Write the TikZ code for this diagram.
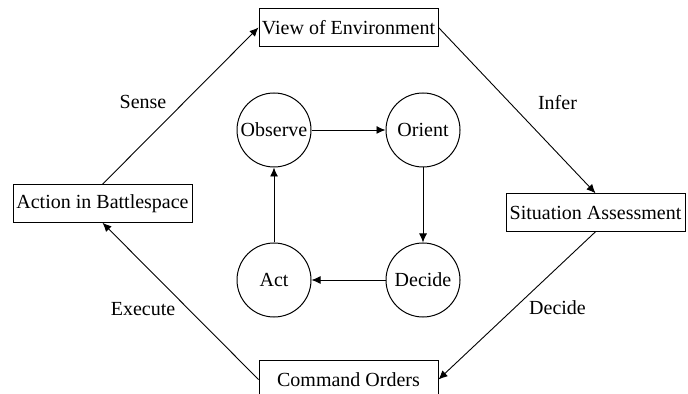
\documentclass[tikz,border=0pt]{standalone}
\usepackage{fontspec}
\setmainfont{LiberationSerif}[Extension=.ttf, UprightFont=*-Regular, BoldFont=*-Bold]
\usepackage{tikz}
\usetikzlibrary{arrows.meta}
\usetikzlibrary{shapes,calc}

\begin{document}
\begin{tikzpicture}[font=\rmfamily\fontsize{10}{12}\selectfont]
    \tikzstyle{arrow} = [
      ->,
      >={Latex[length=4.5pt,width=4pt]},
      line width=0.45pt,
      draw=black,
    ]
    \tikzstyle{stage} = [
      draw=black,
      line width=0.5pt,
      anchor=center,
      align=center,
      minimum width=89.5pt,
      minimum height=18.75pt,
      inner sep=0pt,
    ]
    \tikzstyle{phase} = [
      draw=black,
      line width=0.5pt,
      circle,
      anchor=center,
      minimum size=37pt,
      inner sep=0pt,
    ]
    \tikzstyle{verb} = [
      midway,
      anchor=center,
    ]

    \newcommand{\loopdx}[0]{37.25pt}
    \newcommand{\loopdy}[0]{37.5pt}

    \useasboundingbox (0,0) rectangle (344pt,-197pt);
    \clip (0,0) rectangle (344pt,-197pt);

    \coordinate (hubAnchor) at (174.25pt,-102.5pt);

    % outer boxes
    {
      \node[stage] (viewEnv)   at ([yshift=88.75pt] hubAnchor) {View of Environment};
      \node[stage] (sitAssess) at ([xshift=123.5pt, yshift=-3.75pt] hubAnchor) {Situation Assessment};
      \node[stage] (cmdOrders) at ([yshift=-87.25pt] hubAnchor) {Command Orders};
      \node[stage] (actBattle) at ([xshift=-123pt, yshift=0.75pt] hubAnchor) {Action in Battlespace};
    }

    % inner loop
    {
      \node[phase] (observe) at ([xshift=-\loopdx, yshift= \loopdy] hubAnchor) {Observe};
      \node[phase] (orient)  at ([xshift= \loopdx, yshift= \loopdy] hubAnchor) {Orient};
      \node[phase] (decide)  at ([xshift= \loopdx, yshift=-\loopdy] hubAnchor) {Decide};
      \node[phase] (act)     at ([xshift=-\loopdx, yshift=-\loopdy] hubAnchor) {Act};

      \draw[arrow] (observe) -- (orient);
      \draw[arrow] (orient) -- (decide);
      \draw[arrow] (decide) -- (act);
      \draw[arrow] (act) -- (observe);
    }

    % sense
    {
      \draw[arrow] (actBattle.north) -- (viewEnv.west)
        node[verb, xshift=-18.75pt, yshift=1.75pt] {Sense};
    }

    % infer
    {
      \draw[arrow] (viewEnv.east) -- (sitAssess.north)
        node[verb, xshift=20.25pt, yshift=3.75pt] {Infer};
    }

    % decide
    {
      \draw[arrow] (sitAssess.south) -- (cmdOrders.east)
        node[verb, xshift=20.25pt, yshift=-1.25pt] {Decide};
    }

    % execute
    {
      \draw[arrow] (cmdOrders.west) -- (actBattle.south)
        node[verb, xshift=-18.75pt, yshift=-3.75pt] {Execute};
    }
  \end{tikzpicture}
\end{document}
